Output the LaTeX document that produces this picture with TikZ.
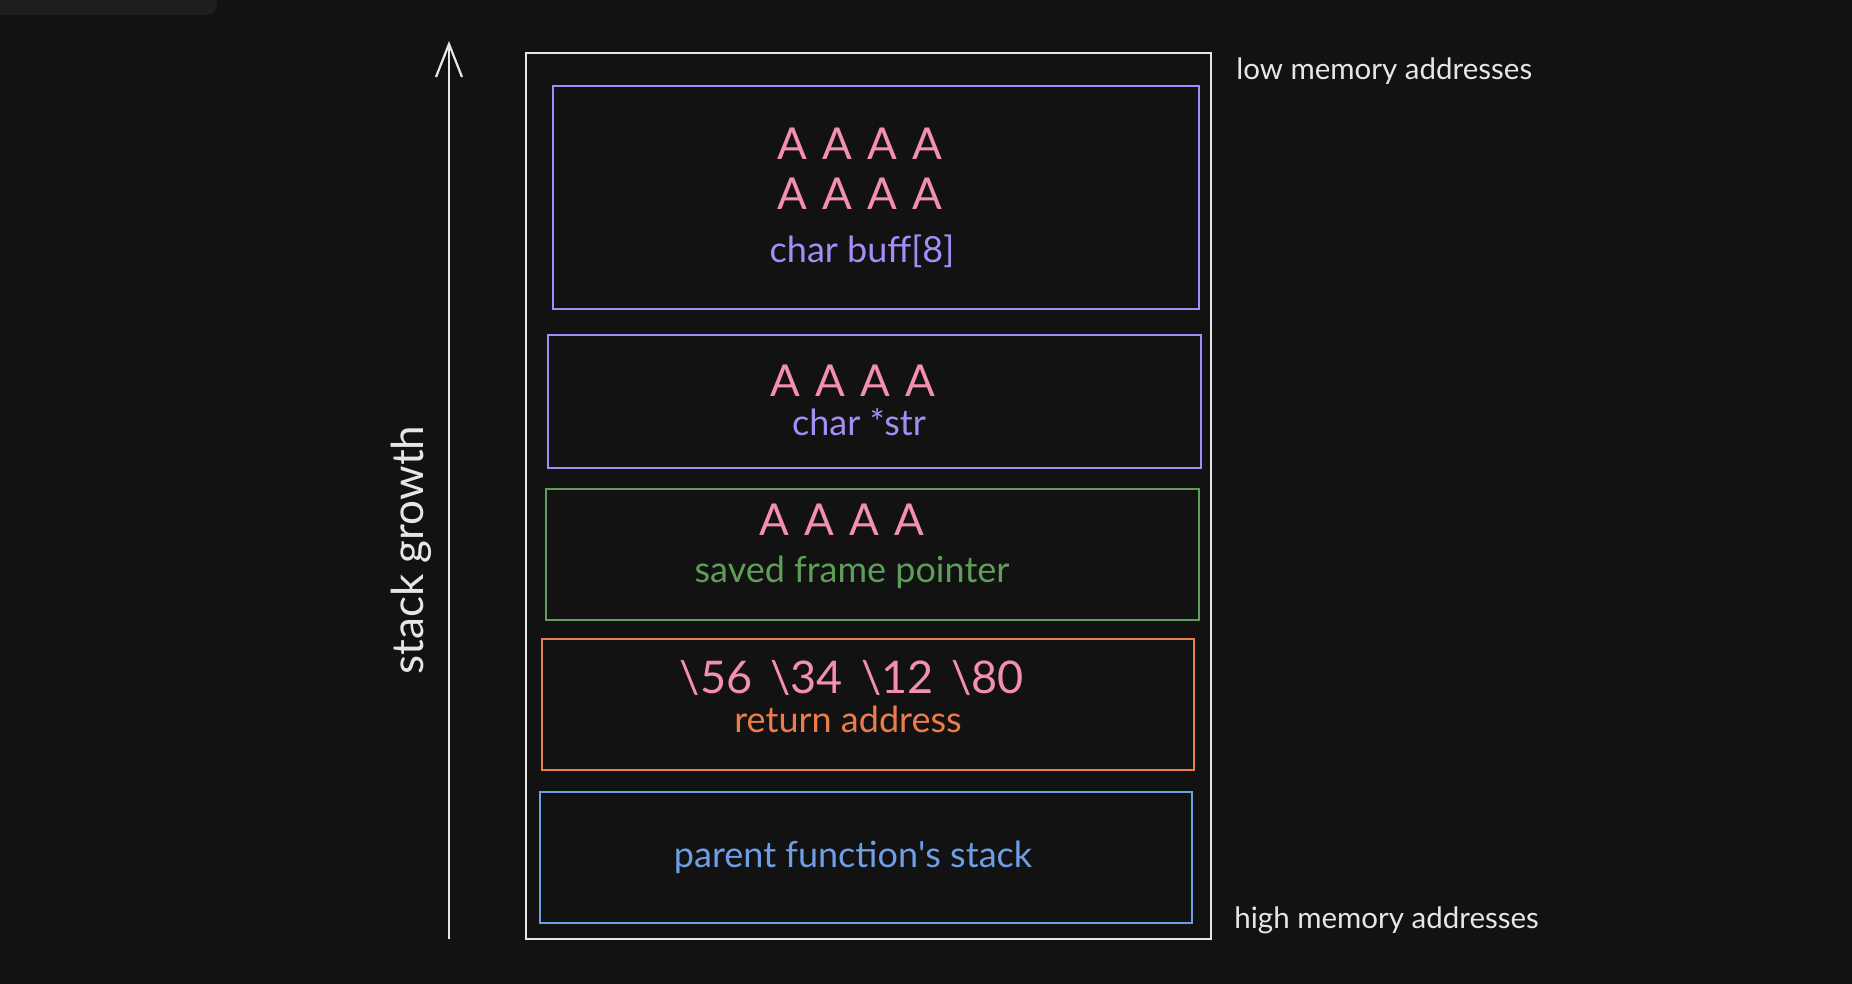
\documentclass[tikz,border=0pt]{standalone}
\usepackage{fontspec}
\setmainfont{Lato}
\usetikzlibrary{arrows.meta}
\definecolor{bg}{HTML}{121212}
\definecolor{tabgray}{HTML}{1E1E1E}
\definecolor{chalk}{HTML}{E6E6E6}
\definecolor{lilac}{HTML}{A58DF7}
\definecolor{rose}{HTML}{F48FB1}
\definecolor{moss}{HTML}{5E9E58}
\definecolor{rust}{HTML}{EC7C4C}
\definecolor{sky}{HTML}{6D9EE6}
\newcommand\bytefont{\fontsize{44}{46}\selectfont\spaceskip 15pt\relax}
\newcommand\addrfont{\fontsize{45}{46}\selectfont\spaceskip 18pt\relax}

\begin{document}
\begin{tikzpicture}[x=1pt,y=-1pt,line width=2.8pt,
  slot/.style={draw=#1},
  lbl/.style={text=#1,font=\fontsize{36}{38}\selectfont,inner sep=0pt,anchor=base},
  bytes/.style={text=rose,font=\bytefont,inner sep=0pt,anchor=base},
  note/.style={text=chalk,font=\fontsize{29.5}{31}\selectfont,inner sep=0pt,anchor=base west}]
\useasboundingbox (0,0) rectangle (1852,984);
\fill[bg] (0,0) rectangle (1852,984);
\fill[tabgray,rounded corners=10pt] (-20,-20) rectangle (217,15);
% stack growth arrow
\coordinate (gbase) at (449,939);
\coordinate (gtip) at (449,41);
\draw[chalk,line width=2.2pt,-{Straight Barb[length=33pt,width=26pt,line width=2.2pt]}] (gbase) -- (gtip);
\node[text=chalk,font=\fontsize{44}{46}\selectfont,inner sep=0pt,anchor=base,rotate=90] (growth) at (423,550) {stack growth};
% whole frame
\draw[chalk] (526,53) rectangle (1211,939);
% slots, top (low addresses) to bottom
\draw[slot=lilac] (553,86) rectangle (1199,309);
\draw[slot=lilac] (548,335) rectangle (1201,468);
\draw[slot=moss] (546,489) rectangle (1199,620);
\draw[slot=rust] (542,639) rectangle (1194,770);
\draw[slot=sky] (540,792) rectangle (1192,923);
% contents
\node[bytes] (buffA) at (860,160) {A A A A};
\node[bytes] (buffB) at (860,210) {A A A A};
\node[lbl=lilac] (buff) at (862,263) {char buff[8]};
\node[bytes] (strA) at (853,396) {A A A A};
\node[lbl=lilac] (str) at (859,435) {char *str};
\node[bytes] (sfpA) at (842,535) {A A A A};
\node[lbl=moss] (sfp) at (852,582) {saved frame pointer};
\node[bytes,font=\addrfont] (retA) at (852,693) {\textbackslash56 \textbackslash34 \textbackslash12 \textbackslash80};
\node[lbl=rust] (ret) at (848,732) {return address};
\node[lbl=sky] (parent) at (853,867) {parent function\textquotesingle s stack};
% address ends
\node[note] (low) at (1235,80) {low memory addresses};
\node[note] (high) at (1233,928) {high memory addresses};
\end{tikzpicture}
\end{document}
